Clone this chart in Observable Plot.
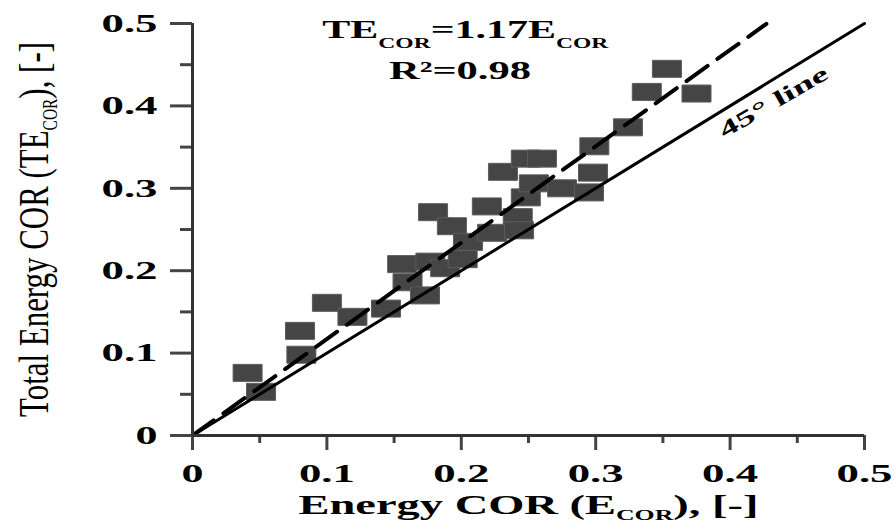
<!DOCTYPE html>
<html>
<head>
<meta charset="utf-8">
<script src="https://cdn.jsdelivr.net/npm/d3@7"></script>
<script src="https://cdn.jsdelivr.net/npm/@observablehq/plot@0.6"></script>
<style>
  html, body { margin: 0; padding: 0; background: #fff; }
  #chart svg { display: block; }
</style>
</head>
<body>
<div id="chart"></div>
<script>
// ---- data ----
const eCor  = [0.041, 0.051, 0.080, 0.081, 0.100, 0.119, 0.144, 0.160, 0.173, 0.156, 0.177, 0.188,
               0.179, 0.193, 0.205, 0.201, 0.219, 0.223, 0.242, 0.248, 0.231, 0.248, 0.260, 0.254,
               0.275, 0.243, 0.298, 0.295, 0.299, 0.324, 0.338, 0.353, 0.375];
const teCor = [0.076, 0.053, 0.127, 0.098, 0.161, 0.144, 0.154, 0.186, 0.170, 0.208, 0.211, 0.203,
               0.271, 0.254, 0.235, 0.214, 0.278, 0.246, 0.265, 0.289, 0.320, 0.336, 0.336, 0.306,
               0.300, 0.249, 0.319, 0.295, 0.351, 0.374, 0.417, 0.445, 0.415];

const majorTicks = [0, 0.1, 0.2, 0.3, 0.4, 0.5];
const minorTicks = [0.05, 0.15, 0.25, 0.35, 0.45];
const tickLabels = ["0", "0.1", "0.2", "0.3", "0.4", "0.5"];

const fitSlope = 1.17;          // TE_COR = 1.17 E_COR
const fitRange = [0, 0.427];    // extent of the dashed fit line (E_COR)
const identityRange = [0, 0.5]; // 45° line

const xTitle = "Energy COR (E_{COR}), [-]";
const yTitle = "Total Energy COR (TE_{COR}), [-]";
const eqLines  = ["TE_{COR}=1.17E_{COR}", "R²=0.98"];
const eqX      = [0.203, 0.199];
const eqY      = [0.483, 0.433];
const lineNote = ["45° line"];
const lineNoteAt = [0.435];

// ---- styling config ----
const textCfg = {
  [xTitle]: {length: 460, subSize: 15, subShift: 6},
  [yTitle]: {length: 375, subSize: 21, subShift: 9},
  [eqLines[0]]: {length: 286, subSize: 14, subShift: 10},
  [eqLines[1]]: {length: 142},
  [lineNote[0]]: {length: 122}
};

const points = eCor.map((x, i) => ({x, y: teCor[i]}));
const eqData = eqLines.map((t, i) => ({t, x: eqX[i], y: eqY[i]}));
const noteData = lineNote.map((t, i) => ({t, x: lineNoteAt[i], y: lineNoteAt[i]}));

const boxSymbol = { draw(ctx) { ctx.rect(-14.5, -8.5, 29, 17); } };

const serif = "'Liberation Serif', 'Times New Roman', serif";

const chart = Plot.plot({
  width: 894,
  height: 521,
  marginLeft: 192,
  marginRight: 30,
  marginTop: 23,
  marginBottom: 86,
  style: {fontFamily: serif, background: "#fff", color: "#000"},
  x: {domain: [0, 0.5]},
  y: {domain: [0, 0.5]},
  marks: [
    Plot.dot(points, {x: "x", y: "y", symbol: boxSymbol, fill: "#454545", stroke: "#5c5c5c", strokeWidth: 1}),
    Plot.line(identityRange, {x: d => d, y: d => d, stroke: "#000", strokeWidth: 3}),
    Plot.line(fitRange, {x: d => d, y: d => fitSlope * d, stroke: "#000", strokeWidth: 4, strokeDasharray: "26,12"}),
    Plot.axisX({ticks: minorTicks, tickSize: 8, text: null, label: null, stroke: "#444", strokeWidth: 3}),
    Plot.axisX({ticks: majorTicks, tickSize: 15, tickPadding: 13, label: null,
      tickFormat: d => tickLabels[majorTicks.indexOf(d)],
      stroke: "#444", strokeWidth: 3, fill: "#000", fontSize: 26, fontWeight: "bold"}),
    Plot.axisY({ticks: minorTicks, tickSize: 12, text: null, label: null, stroke: "#444", strokeWidth: 3}),
    Plot.axisY({ticks: majorTicks, tickSize: 22, tickPadding: 13, label: null,
      tickFormat: d => tickLabels[majorTicks.indexOf(d)],
      stroke: "#444", strokeWidth: 3, fill: "#000", fontSize: 26, fontWeight: "bold"}),
    Plot.ruleX([0], {stroke: "#333", strokeWidth: 3}),
    Plot.ruleY([0], {stroke: "#333", strokeWidth: 3}),
    Plot.text(eqData, {x: "x", y: "y", text: "t", fontSize: 25, fontWeight: "bold", lineAnchor: "bottom", fill: "#000"}),
    Plot.text(noteData, {x: "x", y: "y", text: "t", rotate: -30, dy: 31, fontSize: 22, fontWeight: "bold", lineAnchor: "bottom", fill: "#000"}),
    Plot.text([xTitle], {text: d => d, frameAnchor: "bottom", dy: 78, textAnchor: "middle", lineAnchor: "bottom", fontSize: 27, fontWeight: "bold", fill: "#000"}),
    Plot.text([yTitle], {text: d => d, frameAnchor: "left", dx: -145, rotate: -90, textAnchor: "middle", lineAnchor: "bottom", fontSize: 42, fill: "#000"})
  ]
});

document.getElementById("chart").appendChild(chart);

// ---- post-processing: subscripts and stretched glyphs ----
const svgNS = "http://www.w3.org/2000/svg";
function buildRich(el, str, cfg) {
  const parts = str.split(/(_\{[^}]*\})/).filter(p => p);
  el.textContent = "";
  let shifted = 0;
  for (const p of parts) {
    const ts = document.createElementNS(svgNS, "tspan");
    if (p.startsWith("_{")) {
      ts.textContent = p.slice(2, -1);
      ts.setAttribute("font-size", cfg.subSize);
      ts.setAttribute("dy", cfg.subShift - shifted);
      shifted = cfg.subShift;
    } else {
      ts.textContent = p;
      if (shifted) { ts.setAttribute("dy", -shifted); shifted = 0; }
    }
    el.appendChild(ts);
  }
}
d3.select(chart).selectAll("text").each(function () {
  const str = this.textContent;
  const cfg = textCfg[str];
  if (!cfg) return;
  if (str.includes("_{")) buildRich(this, str, cfg);
  this.setAttribute("textLength", cfg.length);
  this.setAttribute("lengthAdjust", "spacingAndGlyphs");
});
d3.select(chart).selectAll('g[aria-label="x-axis tick label"] text, g[aria-label="y-axis tick label"] text').each(function () {
  const s = this.textContent;
  const digits = s.replace(/[^0-9]/g, "").length;
  const dots = s.length - digits;
  this.setAttribute("textLength", digits * 22 + dots * 12);
  this.setAttribute("lengthAdjust", "spacingAndGlyphs");
});
</script>
</body>
</html>
